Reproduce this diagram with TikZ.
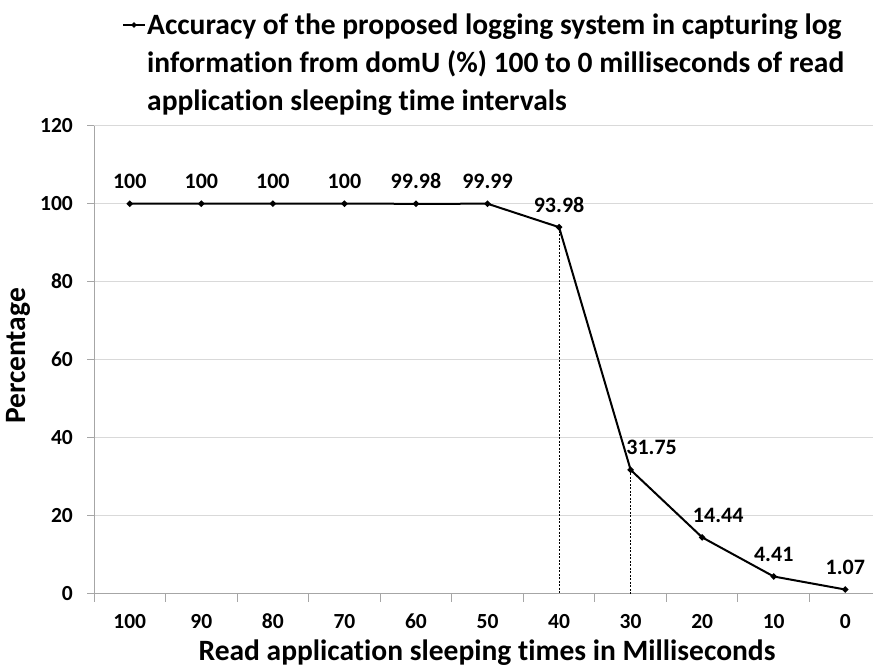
\documentclass[tikz,border=0pt]{standalone}
\usepackage{fontspec}
\setmainfont{Carlito}[Ligatures=NoCommon]
\usetikzlibrary{shapes.geometric,calc}
\definecolor{gridgray}{HTML}{D9D9D9}
\definecolor{axisgray}{HTML}{A6A6A6}
\tikzset{
  dmark/.style={diamond,fill=black,inner sep=0pt,minimum size=7pt},
  dataline/.style={line width=2pt,black,line join=round},
  vallbl/.style={font=\fontsize{22}{24}\selectfont\bfseries,inner sep=0pt,text height=14pt,text depth=0pt},
  ticklbl/.style={font=\fontsize{21.5}{24}\selectfont\bfseries,inner sep=0pt,text height=14pt,text depth=0pt},
  titlelbl/.style={font=\fontsize{29.5}{38}\selectfont\bfseries,inner sep=0pt},
  gridln/.style={gridgray,line width=1pt},
  axisln/.style={axisgray,line width=1pt},
  dropln/.style={black,line width=0.8pt,dash pattern=on 2pt off 1.5pt}
}
\begin{document}
\begin{tikzpicture}[x=1pt,y=1pt]
\useasboundingbox (0,0) rectangle (873,667);
\begin{scope}[xshift=94pt,yshift=73.3pt,x=71.55pt,y=3.9pt]
  % gridlines
  \foreach \v in {20,40,60,80,100,120}{
    \draw[gridln] (0,\v) -- (10.9,\v);
    \draw[axisln] ([xshift=-7pt]0,\v) -- (0,\v);
  }
  % axes
  \draw[axisln] (0,0) -- (10.9,0);
  \draw[axisln] (0,0) -- (0,120);
  \draw[axisln] ([xshift=-7pt]0,0) -- (0,0);
  \foreach \i in {0,...,10}{
    \draw[axisln] (\i,0) -- ([yshift=-8pt]\i,0);
  }
  % y tick labels
  \foreach \v in {0,20,...,120}{
    \node[ticklbl,anchor=east] (yl\v) at ([xshift=-21pt]0,\v) {\v};
  }
  % x tick labels
  \foreach \i/\t in {0/100,1/90,2/80,3/70,4/60,5/50,6/40,7/30,8/20,9/10,10/0}{
    \node[ticklbl] (xl\i) at ([yshift=-28pt]\i+0.5,0) {\t};
  }
  % data points
  \node[dmark] (p0) at (0.5,100) {};
  \node[dmark] (p1) at (1.5,100) {};
  \node[dmark] (p2) at (2.5,100) {};
  \node[dmark] (p3) at (3.5,100) {};
  \node[dmark] (p4) at (4.5,99.98) {};
  \node[dmark] (p5) at (5.5,99.99) {};
  \node[dmark] (p6) at (6.5,93.98) {};
  \node[dmark] (p7) at (7.5,31.75) {};
  \node[dmark] (p8) at (8.5,14.44) {};
  \node[dmark] (p9) at (9.5,4.41) {};
  \node[dmark] (p10) at (10.5,1.07) {};
  \coordinate (b6) at (6.5,0);
  \coordinate (b7) at (7.5,0);
  \draw[dropln] (p6.center) -- (b6);
  \draw[dropln] (p7.center) -- (b7);
  \draw[dataline] (p0.center) -- (p1.center) -- (p2.center) -- (p3.center) -- (p4.center) -- (p5.center) -- (p6.center) -- (p7.center) -- (p8.center) -- (p9.center) -- (p10.center);
  \foreach \n/\t/\dx in {0/100/0,1/100/0,2/100/0,3/100/0,4/99.98/0,5/99.99/0,6/93.98/0,7/31.75/21,8/14.44/16,9/4.41/0,10/1.07/0}{
    \node[vallbl] (v\n) at ([xshift=\dx pt,yshift=22pt]p\n.center) {\t};
  }
\end{scope}
% axis titles
\node[titlelbl,anchor=base] (xt) at (487,7) {Read application sleeping times in Milliseconds};
\node[titlelbl,rotate=90] (yt) at (18,311) {Percentage};
% legend
\coordinate (lg1) at (123,642);
\coordinate (lg2) at (145,642);
\draw[line width=1.5pt] (lg1) -- (lg2);
\node[dmark,minimum size=6pt] (lgm) at ($(lg1)!0.5!(lg2)$) {};
\node[titlelbl,anchor=base west] (lgt1) at (147,632) {Accuracy of the proposed logging system in capturing log};
\node[titlelbl,anchor=base west] (lgt2) at (147,594) {information from domU (\%) 100 to 0 milliseconds of read};
\node[titlelbl,anchor=base west] (lgt3) at (147,556) {application sleeping time intervals};
\end{tikzpicture}
\end{document}
